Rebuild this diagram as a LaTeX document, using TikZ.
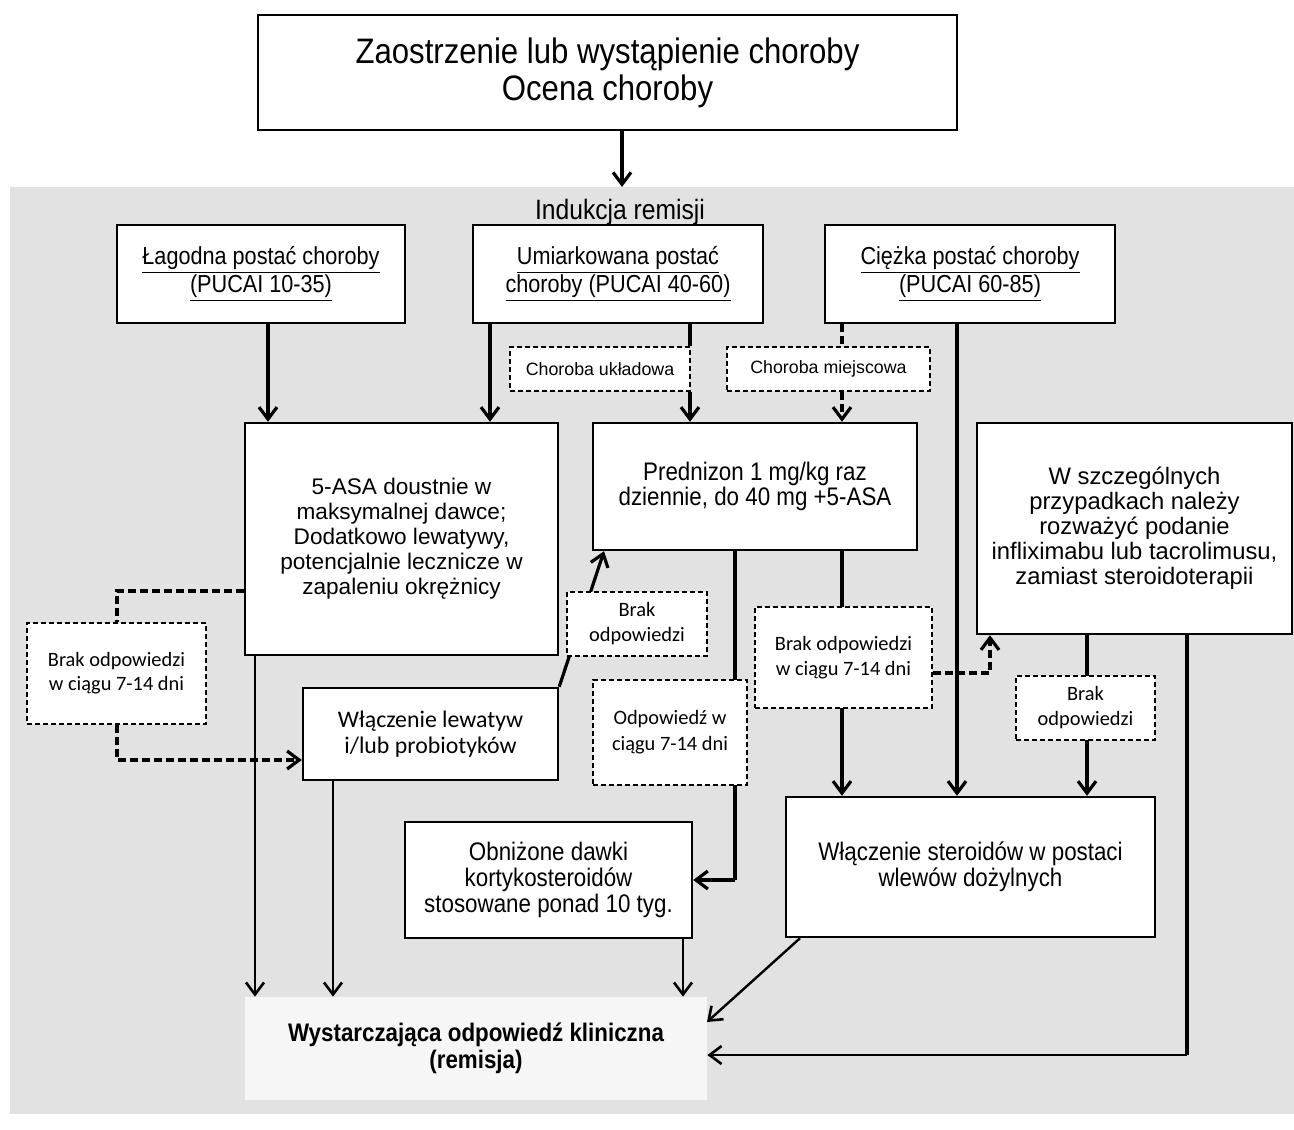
\documentclass[tikz,border=0pt]{standalone}
\usepackage{fontspec}
\setmainfont{Liberation Sans}
\newfontfamily\narrowf{Liberation Sans}[FakeStretch=0.88]
\newfontfamily\calf{Carlito}
\usetikzlibrary{arrows.meta}
\pgfdeclarelayer{bglayer}
\pgfdeclarelayer{linelayer}
\pgfsetlayers{bglayer,linelayer,main}
\definecolor{bggray}{RGB}{226,226,226}
\definecolor{remfill}{RGB}{246,246,246}
\tikzset{
  every node/.append style={execute at begin node={\lineskiplimit=-30pt}},
  box/.style={draw=black, line width=1.2pt, fill=white, align=center, inner sep=0pt},
  dbox/.style={draw=black, line width=1pt, dash pattern=on 2.5pt off 1.5pt, fill=white, align=center, inner sep=0pt},
  conn/.style={line width=1.6pt},
  arr/.style={line width=1.6pt, -{Straight Barb[length=6pt,width=9pt,line width=1.6pt]}},
  darr/.style={line width=1.6pt, dash pattern=on 4pt off 2pt, -{Straight Barb[length=6pt,width=9pt,line width=1.6pt]}},
  dconn/.style={line width=1.6pt, dash pattern=on 4pt off 2pt},
  tarr/.style={line width=1.2pt, -{Straight Barb[length=6pt,width=9pt,line width=1.3pt]}},
}
\begin{document}
\begin{tikzpicture}[x=0.5pt,y=-0.5pt]
\useasboundingbox (0,0) rectangle (1294,1129);
\begin{pgfonlayer}{bglayer}
\fill[bggray] (10,187) rectangle (1294,1114);
\end{pgfonlayer}

\node[box, minimum width=349.5pt, minimum height=57.5pt, font=\narrowf\fontsize{17.7}{18.5}\selectfont] (top) at (607.5,72.5) {Zaostrzenie lub wystąpienie choroby\\Ocena choroby};

\node[font=\narrowf\fontsize{14}{15}\selectfont] (ind) at (620,212) {Indukcja remisji};

\node[box, minimum width=144pt, minimum height=49pt, font=\narrowf\fontsize{12.3}{14}\selectfont] (A) at (261,274) {\underline{Łagodna postać choroby}\\\underline{(PUCAI 10-35)}};
\node[box, minimum width=145pt, minimum height=49pt, font=\narrowf\fontsize{12.3}{14}\selectfont] (B) at (618,274) {\underline{Umiarkowana postać}\\\underline{choroby (PUCAI 40-60)}};
\node[box, minimum width=145pt, minimum height=49pt, font=\narrowf\fontsize{12.3}{14}\selectfont] (C) at (970,274) {\underline{Ciężka postać choroby}\\\underline{(PUCAI 60-85)}};

\node[dbox, minimum width=90pt, minimum height=22pt, font=\fontsize{8.9}{9.5}\selectfont] (ukl) at (600,369) {Choroba układowa};
\node[dbox, minimum width=101.5pt, minimum height=22pt, font=\fontsize{8.9}{9.5}\selectfont] (miej) at (828.5,369) {Choroba miejscowa};

\node[box, minimum width=156.5pt, minimum height=116pt, font=\fontsize{11.3}{12.5}\selectfont] (D) at (401.5,539) {5-ASA doustnie w\\maksymalnej dawce;\\Dodatkowo lewatywy,\\potencjalnie lecznicze w\\zapaleniu okrężnicy};
\node[box, minimum width=162pt, minimum height=63.5pt, font=\narrowf\fontsize{12.7}{12.8}\selectfont] (E) at (755,486.5) {Prednizon 1 mg/kg raz\\dziennie, do 40 mg +5-ASA};
\node[box, minimum width=157.5pt, minimum height=105.5pt, font=\fontsize{11.9}{12.5}\selectfont] (F) at (1134.5,528.5) {W szczególnych\\przypadkach należy\\rozważyć podanie\\infliximabu lub tacrolimusu,\\zamiast steroidoterapii};

\node[box, minimum width=127.5pt, minimum height=46pt, font=\calf\fontsize{11.9}{13}\selectfont] (G) at (430.5,734) {Włączenie lewatyw\\i/lub probiotyków};

\node[box, minimum width=184.5pt, minimum height=70pt, font=\narrowf\fontsize{12.7}{13}\selectfont] (H) at (970.5,867) {Włączenie steroidów w postaci\\wlewów dożylnych};
\node[box, minimum width=143.5pt, minimum height=58pt, font=\narrowf\fontsize{12.7}{12.8}\selectfont] (I) at (548.5,880) {Obniżone dawki\\kortykosteroidów\\stosowane ponad 10 tyg.};
\node[draw=none, fill=remfill, minimum width=231pt, minimum height=51.5pt, inner sep=0pt, align=center, font=\narrowf\bfseries\fontsize{12.7}{13.5}\selectfont] (J) at (476,1048.5) {Wystarczająca odpowiedź kliniczna\\(remisja)};

\node[dbox, minimum width=89.5pt, minimum height=50.5pt, font=\calf\fontsize{10.2}{12}\selectfont] (L1) at (116.5,673.5) {Brak odpowiedzi\\w ciągu 7-14 dni};
\node[dbox, minimum width=70pt, minimum height=32pt, font=\calf\fontsize{10.2}{12.5}\selectfont] (M1) at (637,624) {Brak\\odpowiedzi};
\node[dbox, minimum width=77pt, minimum height=52.5pt, font=\calf\fontsize{10.2}{13}\selectfont] (O) at (670,732.5) {Odpowiedź w\\ciągu 7-14 dni};
\node[dbox, minimum width=88.5pt, minimum height=50.5pt, font=\calf\fontsize{10.2}{12.5}\selectfont] (R1) at (843.5,657.5) {Brak odpowiedzi\\w ciągu 7-14 dni};
\node[dbox, minimum width=69.5pt, minimum height=32pt, font=\calf\fontsize{10.2}{12.5}\selectfont] (R2) at (1085.5,708) {Brak\\odpowiedzi};

\coordinate (Lturn1) at (117,591);
\coordinate (Lturn2) at (117,760);
\coordinate (Eturn) at (735,880);
\coordinate (Rturn) at (990,673);
\coordinate (Fturn) at (1187,1055);
\coordinate (Itop) at (622,187);

\begin{pgfonlayer}{linelayer}
\draw[arr] (622,0 |- top.south) -- (Itop);
\draw[arr] (268,0 |- A.south) -- (268,0 |- D.north);
\draw[arr] (490,0 |- B.south) -- (490,0 |- D.north);
\draw[conn] (690,0 |- B.south) -- (690,0 |- ukl.north);
\draw[arr] (690,0 |- ukl.south) -- (690,0 |- E.north);
\draw[dconn] (842,0 |- C.south) -- (842,0 |- miej.north);
\draw[darr] (842,0 |- miej.south) -- (842,0 |- E.north);
\draw[arr] (957,0 |- C.south) -- (957,0 |- H.north);

\draw[dconn] (D.west |- Lturn1) -- (Lturn1) -- (117,0 |- L1.north);
\draw[darr] (117,0 |- L1.south) -- (Lturn2) -- (G.west |- Lturn2);

\draw[arr] (G.north east) -- (604,0 |- E.south);

\draw[conn] (735,0 |- E.south) -- (Eturn);
\draw[arr] (Eturn) -- (I.east |- Eturn);

\draw[arr] (842,0 |- E.south) -- (842,0 |- H.north);
\draw[darr] (R1.east |- Rturn) -- (Rturn) -- (990,0 |- F.south);

\draw[arr] (1087,0 |- F.south) -- (1087,0 |- H.north);

\draw[conn] (1187,0 |- F.south) -- (Fturn);
\draw[tarr] (Fturn) -- (J.east |- Fturn);

\draw[tarr] (255,0 |- D.south) -- (255,0 |- J.north);
\draw[tarr] (333,0 |- G.south) -- (333,0 |- J.north);
\draw[tarr] (683,0 |- I.south) -- (683,0 |- J.north);
\draw[tarr] (800,0 |- H.south) -- (707,1022);
\end{pgfonlayer}
\end{tikzpicture}
\end{document}
